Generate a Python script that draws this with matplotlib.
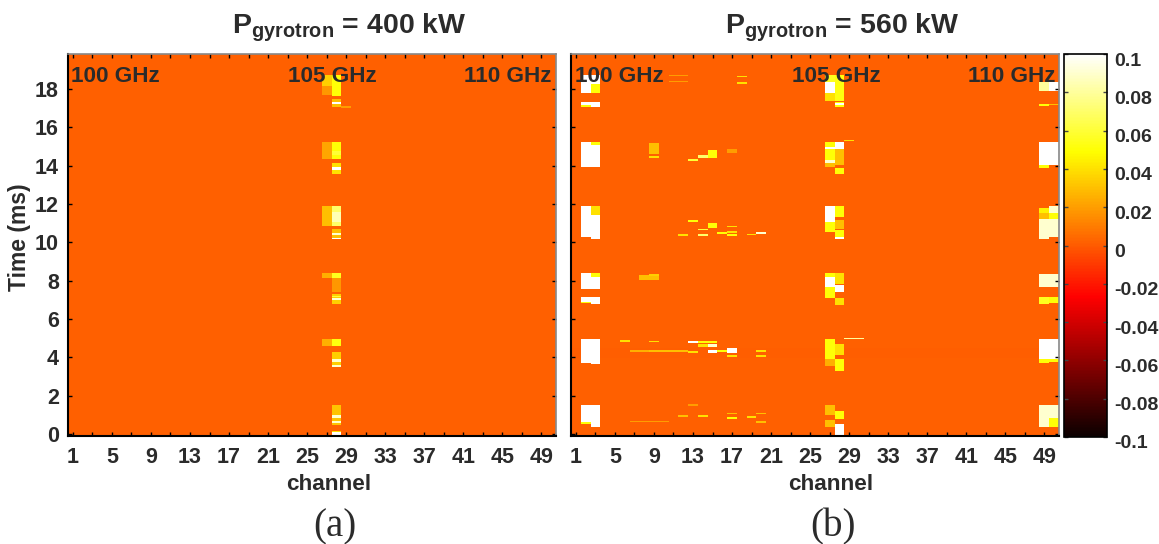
import numpy as np
import matplotlib
matplotlib.use('Agg')
import matplotlib.pyplot as plt
from matplotlib.transforms import ScaledTranslation

plt.rcParams['font.family'] = ['Liberation Sans', 'DejaVu Sans']
plt.rcParams['font.weight'] = 'bold'
plt.rcParams['mathtext.fontset'] = 'custom'
plt.rcParams['mathtext.bf'] = 'Liberation Sans:bold'
plt.rcParams['mathtext.rm'] = 'Liberation Sans:bold'

# Data
channel_ticks = [1, 5, 9, 13, 17, 21, 25, 29, 33, 37, 41, 45, 49]
time_ticks = [0, 2, 4, 6, 8, 10, 12, 14, 16, 18]
cbar_ticks = [-0.1, -0.08, -0.06, -0.04, -0.02, 0, 0.02, 0.04, 0.06, 0.08, 0.1]
cbar_labels = ['-0.1', '-0.08', '-0.06', '-0.04', '-0.02', '0', '0.02', '0.04', '0.06', '0.08', '0.1']
band_labels = ['100 GHz', '105 GHz', '110 GHz']
titles = ['400 kW', '560 kW']

# faint level of the background, one value per half millisecond from t = 0 upward
background_a = [0.0017, 0.0019, 0.0016, 0.0019, 0.0017, 0.0016, 0.0019, 0.0017, 0.002, 0.0017,
                0.0016, 0.0019, 0.0017, 0.0019, 0.0016, 0.0017, 0.002, 0.0019, 0.0017, 0.0016,
                0.0019, 0.0017, 0.0016, 0.0019, 0.002, 0.0017, 0.0019, 0.0016, 0.0017, 0.0019,
                0.0016, 0.0017, 0.0019, 0.0017, 0.0016, 0.0019, 0.0017, 0.0016, 0.0019, 0.0017]
background_b = [0.002, 0.0017, 0.0019, 0.0016, 0.002, 0.0019, 0.0017, 0.002, 0.0015, 0.0017,
                0.0019, 0.0016, 0.002, 0.0017, 0.0019, 0.0016, 0.0017, 0.002, 0.0019, 0.0017,
                0.002, 0.0016, 0.0019, 0.0017, 0.0016, 0.002, 0.0017, 0.0019, 0.0016, 0.002,
                0.0017, 0.0019, 0.0016, 0.0017, 0.002, 0.0017, 0.0016, 0.0019, 0.0017, 0.0019]

# (first channel, last channel, t start, t end, value)
events_a = [
    (27, 27, 18.2, 18.73, 0.035), (27, 27, 17.7, 18.2, 0.018),
    (28, 28, 17.6, 18.73, 0.05), (28, 28, 17.07, 17.5, 0.03), (28, 28, 17.22, 17.33, 0.1),
    (29, 29, 17.05, 17.1, 0.02),
    (27, 27, 14.4, 15.25, 0.022), (28, 28, 14.38, 15.25, 0.05), (28, 28, 14.6, 14.8, 0.06),
    (28, 28, 13.6, 14.12, 0.04), (28, 28, 13.8, 13.92, 0.1),
    (27, 27, 10.9, 11.86, 0.03), (28, 28, 10.9, 11.86, 0.07), (28, 28, 11.1, 11.6, 0.085),
    (28, 28, 10.17, 10.73, 0.03), (28, 28, 10.37, 10.49, 0.09), (28, 28, 10.17, 10.23, 0.1),
    (27, 27, 8.12, 8.41, 0.025), (28, 28, 8.12, 8.41, 0.055),
    (28, 28, 7.42, 8.12, 0.018), (28, 28, 6.78, 7.33, 0.035), (28, 28, 7.0, 7.12, 0.09), (28, 28, 7.18, 7.25, 0.06),
    (27, 27, 4.59, 4.97, 0.025), (28, 28, 4.59, 4.97, 0.052),
    (28, 28, 3.47, 4.29, 0.035), (28, 28, 3.8, 3.92, 0.09), (28, 28, 3.55, 3.65, 0.09),
    (28, 28, 0.47, 1.51, 0.032), (28, 28, 0.82, 0.98, 0.09), (28, 28, 0.56, 0.7, 0.09),
    (28, 28, -0.06, 0.2, 0.04), (28, 28, 0.0, 0.12, 0.1),
]

events_b = [
    # channels 2, 3
    (2, 2, 17.77, 18.73, 0.1), (2, 2, 17.16, 17.33, 0.1), (2, 2, 17.07, 17.16, 0.05),
    (2, 2, 13.94, 15.25, 0.1), (2, 2, 10.29, 11.86, 0.1), (2, 2, 7.6, 8.41, 0.1),
    (2, 2, 6.9, 7.2, 0.1), (2, 2, 6.81, 6.9, 0.05), (2, 2, 3.73, 4.97, 0.1),
    (2, 2, 0.64, 1.54, 0.1), (2, 2, 0.52, 0.64, 0.05),
    (3, 3, 18.29, 18.73, 0.1), (3, 3, 17.77, 18.29, 0.05), (3, 3, 17.07, 17.33, 0.1),
    (3, 3, 15.07, 15.25, 0.05), (3, 3, 13.94, 15.07, 0.1), (3, 3, 11.42, 11.86, 0.04),
    (3, 3, 10.2, 11.42, 0.1), (3, 3, 8.2, 8.41, 0.05), (3, 3, 7.6, 8.2, 0.1),
    (3, 3, 6.76, 7.2, 0.1), (3, 3, 3.68, 4.97, 0.1), (3, 3, 0.38, 1.54, 0.1),
    # channels 49, 50
    (49, 49, 17.86, 18.38, 0.08), (49, 49, 17.11, 17.25, 0.05), (49, 49, 14.03, 15.25, 0.1),
    (49, 49, 13.9, 14.03, 0.05), (49, 49, 11.51, 11.77, 0.045), (49, 49, 11.25, 11.51, 0.03),
    (49, 49, 10.2, 11.25, 0.09), (49, 49, 7.68, 8.38, 0.09), (49, 49, 6.78, 7.2, 0.055),
    (49, 49, 3.94, 4.97, 0.1), (49, 49, 3.73, 3.94, 0.05), (49, 49, 0.38, 1.54, 0.09),
    (50, 50, 17.86, 18.38, 0.1), (50, 50, 17.16, 17.25, 0.03), (50, 50, 14.03, 15.25, 0.1),
    (50, 50, 11.51, 11.86, 0.09), (50, 50, 11.25, 11.51, 0.05), (50, 50, 10.29, 11.25, 0.09),
    (50, 50, 7.68, 8.38, 0.09), (50, 50, 6.85, 7.2, 0.05), (50, 50, 3.94, 4.97, 0.1),
    (50, 50, 3.77, 3.94, 0.05), (50, 50, 0.81, 1.54, 0.09), (50, 50, 0.38, 0.81, 0.05),
    # channels 27, 28, 29, 30
    (27, 27, 18.38, 18.73, 0.055), (27, 27, 17.77, 18.38, 0.1), (27, 27, 17.4, 17.77, 0.04),
    (27, 27, 14.0, 15.25, 0.05), (27, 27, 14.9, 15.0, 0.1), (27, 27, 14.15, 14.3, 0.09), (27, 27, 13.94, 14.15, 0.03),
    (27, 27, 11.1, 11.86, 0.1), (27, 27, 10.55, 11.1, 0.05),
    (27, 27, 8.2, 8.41, 0.05), (27, 27, 7.68, 8.2, 0.1), (27, 27, 7.1, 7.68, 0.05),
    (27, 27, 3.94, 4.97, 0.05), (27, 27, 3.6, 3.94, 0.025),
    (27, 27, 1.0, 1.54, 0.03), (27, 27, 0.38, 0.72, 0.03),
    (28, 28, 17.4, 18.73, 0.052), (28, 28, 17.07, 17.33, 0.05), (28, 28, 17.2, 17.28, 0.1),
    (28, 28, 14.9, 15.25, 0.1), (28, 28, 14.03, 14.9, 0.03), (28, 28, 13.6, 13.86, 0.05),
    (28, 28, 11.33, 11.86, 0.05), (28, 28, 10.73, 11.16, 0.03), (28, 28, 10.2, 10.64, 0.05), (28, 28, 10.2, 10.26, 0.1),
    (28, 28, 7.85, 8.41, 0.04), (28, 28, 7.42, 7.77, 0.1), (28, 28, 6.72, 7.15, 0.04),
    (28, 28, 4.12, 4.72, 0.04), (28, 28, 3.3, 3.94, 0.05),
    (28, 28, 0.8, 1.25, 0.05), (28, 28, -0.06, 0.55, 0.1),
    (29, 29, 15.27, 15.33, 0.04), (29, 30, 4.98, 5.03, 0.08),
    # middle channels
    (6, 6, 4.82, 4.94, 0.04), (9, 9, 14.65, 15.17, 0.03), (9, 9, 14.45, 14.55, 0.04),
    (8, 9, 8.05, 8.35, 0.03), (9, 9, 8.25, 8.4, 0.035), (13, 13, 14.25, 14.37, 0.06),
    (14, 14, 14.43, 14.6, 0.07), (15, 15, 14.43, 14.82, 0.05), (17, 17, 14.7, 14.9, 0.02),
    (13, 13, 11.06, 11.16, 0.05), (14, 14, 10.63, 10.7, 0.06), (15, 15, 10.8, 11.02, 0.05),
    (16, 16, 10.43, 10.55, 0.05), (17, 17, 10.82, 10.9, 0.04), (17, 17, 10.5, 10.6, 0.04),
    (17, 17, 10.34, 10.41, 0.05), (19, 19, 10.36, 10.41, 0.04), (20, 20, 10.43, 10.55, 0.09),
    (12, 12, 10.34, 10.43, 0.04), (14, 14, 10.34, 10.41, 0.07),
    (9, 9, 4.82, 4.9, 0.04), (13, 13, 4.76, 4.9, 0.1), (14, 14, 4.8, 4.9, 0.05), (14, 14, 4.55, 4.72, 0.04),
    (15, 15, 4.76, 4.9, 0.05), (15, 15, 4.55, 4.69, 0.09), (15, 15, 4.24, 4.38, 0.1),
    (17, 17, 4.24, 4.5, 0.1), (20, 20, 4.3, 4.36, 0.04), (20, 20, 4.03, 4.12, 0.04),
    (17, 17, 4.03, 4.12, 0.04), (16, 16, 4.3, 4.36, 0.05), (13, 13, 4.24, 4.34, 0.04),
    (9, 12, 4.3, 4.36, 0.03), (7, 8, 4.3, 4.36, 0.025),
    (12, 12, 0.9, 0.96, 0.03), (14, 14, 0.9, 0.96, 0.04), (17, 17, 0.8, 0.9, 0.05),
    (17, 17, 1.05, 1.1, 0.03), (19, 19, 0.85, 0.95, 0.04), (20, 20, 1.05, 1.1, 0.03),
    (20, 20, 0.6, 0.7, 0.03), (7, 10, 0.62, 0.7, 0.02), (13, 13, 1.5, 1.56, 0.02),
    (18, 18, 18.62, 18.7, 0.04), (18, 18, 18.3, 18.38, 0.04), (11, 12, 18.68, 18.74, 0.02),
    (11, 12, 18.35, 18.41, 0.02),
]

times = np.arange(-0.1, 19.85, 0.05)
channels = np.arange(1, 51)


def make_image(events, background):
    band = np.clip((times / 0.5).astype(int), 0, len(background) - 1)
    img = np.tile(np.array(background)[band][:, None], (1, len(channels)))
    for c0, c1, t0, t1, val in events:
        rows = (times >= t0) & (times < t1)
        img[rows, c0 - 1:c1] = val
    return img


W, H = 1159, 544


def px_axes(x0, y0, x1, y1):
    return fig.add_axes([x0 / W, 1 - y1 / H, (x1 - x0) / W, (y1 - y0) / H])


fig = plt.figure(figsize=(W / 100, H / 100), dpi=100)
ax_a = px_axes(68, 54, 556, 436)
ax_b = px_axes(571, 54, 1059, 436)
dark = '#2b2b2b'
xshift = ScaledTranslation(3 / 100, 0, fig.dpi_scale_trans)

for ax, events, bg, title, xt, xc, xtitle, xletter, letter in zip(
        [ax_a, ax_b], [events_a, events_b], [background_a, background_b], titles,
        [(115, 332, 508), (619, 836, 1012)], [329, 831], [349, 842], [335, 833], ['(a)', '(b)']):
    im = ax.imshow(make_image(events, bg), origin='lower', aspect='auto', cmap='hot',
                   vmin=-0.1, vmax=0.1, interpolation='nearest',
                   extent=[0.5, 50.5, times[0] - 0.025, times[-1] + 0.025])
    ax.set_xlim(0.5, 50.5)
    ax.set_ylim(-0.1, 19.83)
    ax.set_xticks(np.arange(1, 51, 2))
    ax.set_xticklabels([str(c) if c in channel_ticks else '' for c in np.arange(1, 51, 2)],
                       fontsize=15.5, fontweight='bold', color=dark)
    for lab in ax.get_xticklabels():
        lab.set_transform(lab.get_transform() + xshift)
    ax.set_yticks(time_ticks)
    ax.tick_params(direction='in', length=3, width=1, top=True, right=True, pad=6.5)
    ax.tick_params(axis='x', pad=8)
    for s in ['left', 'bottom']:
        ax.spines[s].set_linewidth(1.5)
    for s in ['top', 'right']:
        ax.spines[s].set_linewidth(1.2)
        ax.spines[s].set_color('#888888')
    for label, x in zip(band_labels, xt):
        fig.text(x / W, 1 - 77 / H, label, ha='center', va='center', fontsize=16.2,
                 fontweight='bold', color=dark)
    fig.text(xtitle / W, 1 - 33 / H, r'$\mathbf{P_{gyrotron}}$ = ' + title, ha='center',
             va='baseline', fontsize=20.5, fontweight='bold', color=dark)
    fig.text(xc / W, 1 - 484 / H, 'channel', ha='center', va='center', fontsize=16.2,
             fontweight='bold', color=dark)
    fig.text(xletter / W, 1 - 527 / H, letter, ha='center', va='center', fontsize=28,
             family='Liberation Serif', fontweight='normal', color=dark)

ax_a.set_yticklabels([str(t) for t in time_ticks], fontsize=15.5, fontweight='bold', color=dark)
ax_b.set_yticklabels([])
fig.text(20 / W, 1 - 237 / H, 'Time (ms)', rotation=90, ha='center', va='center',
         fontsize=16.5, fontweight='bold', color=dark)

cax = px_axes(1064, 54, 1107, 437)
cb = fig.colorbar(im, cax=cax)
cb.set_ticks(cbar_ticks)
cb.set_ticklabels(cbar_labels)
cax.tick_params(direction='in', length=3, width=1, left=True, right=True, pad=5,
                labelsize=14, labelcolor=dark, color='#444444')
cb.outline.set_linewidth(1.2)
cb.outline.set_edgecolor('black')
# labels in the reference sit a few pixels below their ticks
shift = ScaledTranslation(0, -5 / 100, fig.dpi_scale_trans)
for lab in cax.get_yticklabels():
    lab.set_transform(lab.get_transform() + shift)

fig.savefig('out.png', dpi=100)
